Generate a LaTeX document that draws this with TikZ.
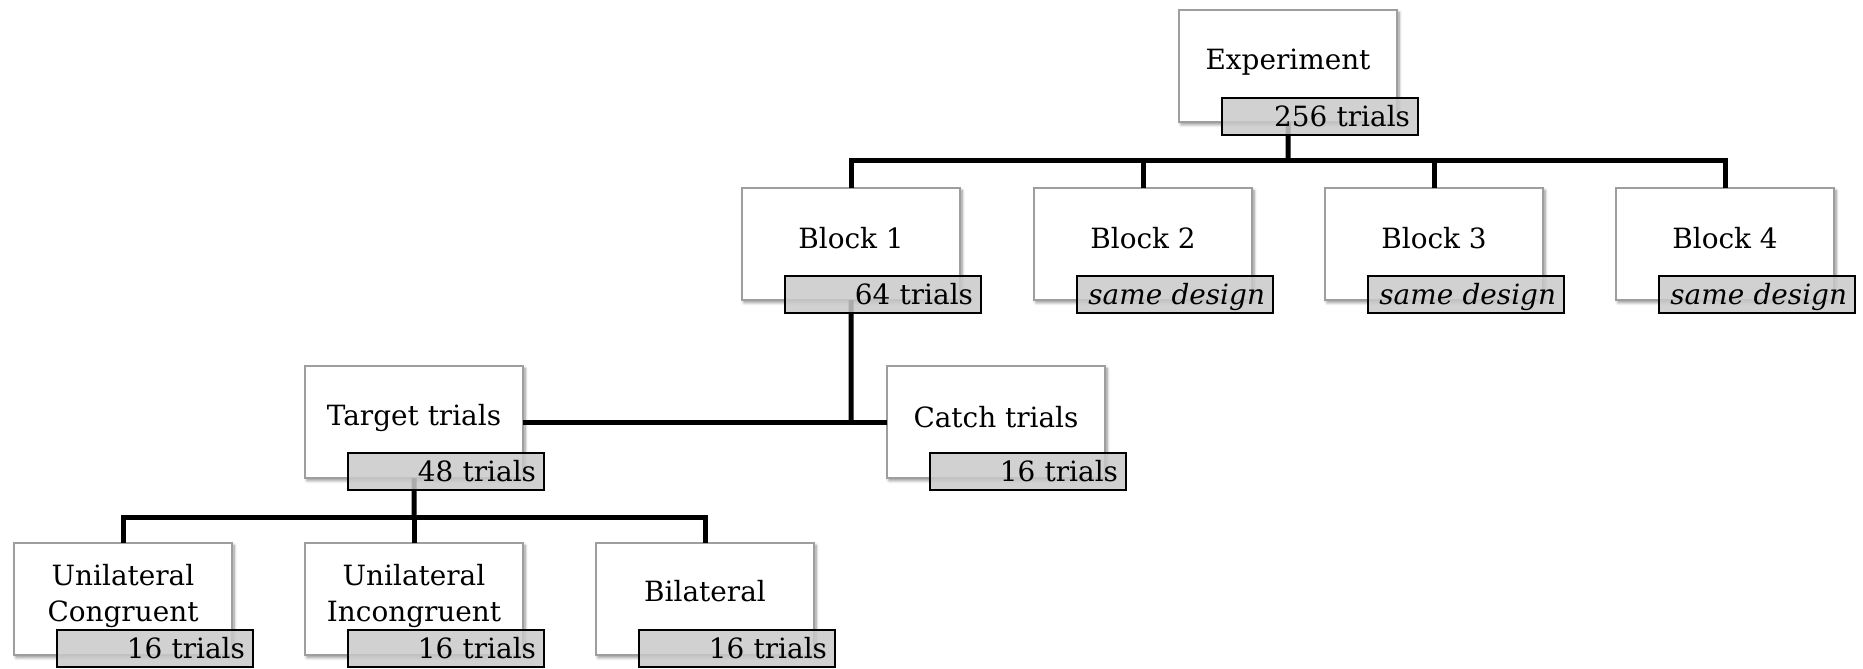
\documentclass[tikz,border=0pt]{standalone}
\usepackage{fontspec}
\setmainfont{DejaVu Serif}
\usetikzlibrary{shadows.blur}
\begin{document}
\begin{tikzpicture}[x=1bp,y=-1bp,
 mainbox/.style={draw=black!38, line width=1.2bp, fill=white, minimum width=218bp, minimum height=112bp, anchor=north west, inner sep=0pt, outer sep=0pt, blur shadow={shadow xshift=2bp, shadow yshift=-2.5bp, shadow blur radius=3bp, shadow blur steps=6, shadow opacity=45}},
 maintext/.style={font=\fontsize{28}{36}\selectfont, inner sep=0pt, align=center},
 labbox/.style={draw=black, line width=1.5bp, fill=black!21, fill opacity=0.85, text opacity=1, anchor=north west, outer sep=0pt, minimum height=37bp, text width=180bp, inner xsep=8bp, inner ysep=0pt, align=right, text height=25bp, text depth=5bp, font=\fontsize{28}{28}\selectfont},
 conn/.style={line width=5bp, black}]
\useasboundingbox (0,0) rectangle (1863,669);
% main boxes
\node[mainbox] (exp) at (1179,10) {};
\node[mainbox] (b1) at (742,188) {};
\node[mainbox] (b2) at (1034,188) {};
\node[mainbox] (b3) at (1325,188) {};
\node[mainbox] (b4) at (1616,188) {};
\node[mainbox] (tgt) at (305,366) {};
\node[mainbox] (cat) at (887,366) {};
\node[mainbox] (c1) at (14,543) {};
\node[mainbox] (c2) at (305,543) {};
\node[mainbox] (c3) at (596,543) {};
% main texts
\node[maintext, anchor=base] (expt) at (1288,70) {Experiment};
\node[maintext, anchor=base] (b1t) at (851,248) {Block 1};
\node[maintext, anchor=base] (b2t) at (1143,248) {Block 2};
\node[maintext, anchor=base] (b3t) at (1434,248) {Block 3};
\node[maintext, anchor=base] (b4t) at (1725,248) {Block 4};
\node[maintext, anchor=base] (tgtt) at (414,425) {Target trials};
\node[maintext, anchor=base] (catt) at (996,427) {Catch trials};
\node[maintext, anchor=north] (c1t) at (123,564) {Unilateral\\Congruent};
\node[maintext, anchor=north] (c2t) at (414,564) {Unilateral\\Incongruent};
\node[maintext, anchor=base] (c3t) at (705,601) {Bilateral};
% connectors
\coordinate (h1) at (1288,161);
\coordinate (h2) at (851,421);
\coordinate (h3) at (414,517);
\draw[conn] (exp.south) -- (h1);
\draw[conn] (b1.north) |- (h1) -| (b4.north);
\draw[conn] (b2.north) -- (b2.north |- h1);
\draw[conn] (b3.north) -- (b3.north |- h1);
\draw[conn] (b1.south) -- (h2);
\draw[conn] (tgt.east) -- (cat.west);
\draw[conn] (tgt.south) -- (h3);
\draw[conn] (c1.north) |- (h3) -| (c3.north);
\draw[conn] (c2.north) -- (c2.north |- h3);
% labels
\node[labbox] (expl) at (1222,98) {256 trials};
\node[labbox] (b1l) at (785,276) {64 trials};
\node[labbox] (b2l) at (1077,276) {\itshape same design};
\node[labbox] (b3l) at (1368,276) {\itshape same design};
\node[labbox] (b4l) at (1659,276) {\itshape same design};
\node[labbox] (tgtl) at (348,453) {48 trials};
\node[labbox] (catl) at (930,453) {16 trials};
\node[labbox] (c1l) at (57,630) {16 trials};
\node[labbox] (c2l) at (348,630) {16 trials};
\node[labbox] (c3l) at (639,630) {16 trials};
\end{tikzpicture}
\end{document}
